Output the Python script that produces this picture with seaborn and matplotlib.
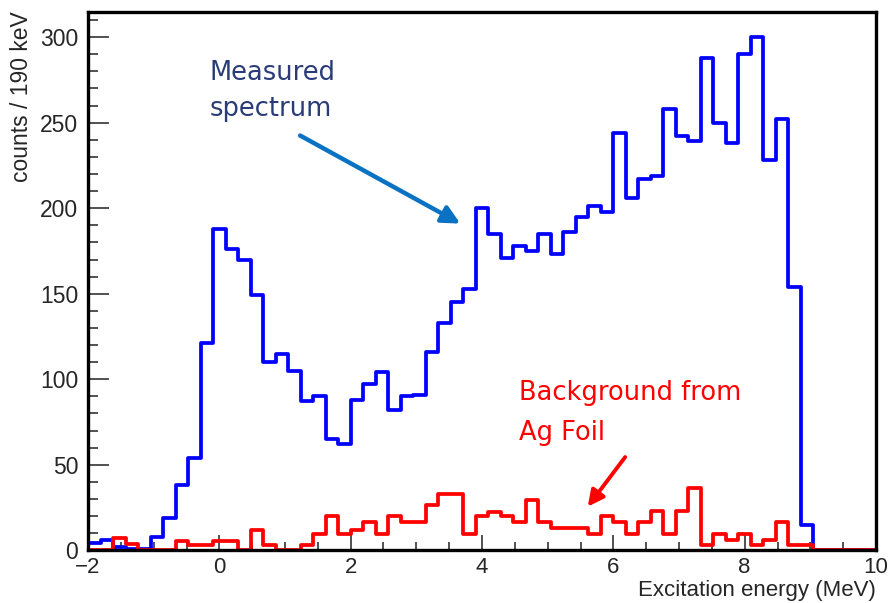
import numpy as np
import pandas as pd
import matplotlib
matplotlib.use("Agg")
import matplotlib.pyplot as plt
from matplotlib.ticker import MultipleLocator
import seaborn as sns

# 63 bins of ~190 keV between -2 and 10 MeV
x_min, x_max, n_bins = -2.0, 10.0, 63

measured = [4, 6, 2, 1, 1, 8, 19, 38, 54, 121,
            188, 176, 170, 149, 110, 115, 105, 87, 90, 65,
            62, 88, 97, 104, 82, 90, 91, 116, 133, 145,
            153, 200, 185, 171, 178, 175, 185, 173, 186, 195,
            201, 198, 244, 206, 217, 219, 258, 242, 239, 288,
            250, 238, 290, 300, 228, 252, 154, 15, 0, 0,
            0, 0, 0]

background = [0, 0, 7, 3.5, 0, 0, 0, 5.6, 2.9, 2.9,
              5.6, 5.6, 0, 12, 2.9, 0, 0, 2.9, 9.7, 19.9,
              9.7, 12, 16.5, 9.7, 19.9, 16.5, 16.5, 26.7, 32.9, 32.9,
              9.7, 19.9, 22.4, 19.9, 16.5, 29.6, 16.5, 13, 13, 13,
              9.7, 19.9, 16.5, 9.7, 16.5, 23, 9.7, 23, 36.4, 2.9,
              9.7, 6.2, 9.7, 2.9, 6.2, 16.5, 2.9, 2.9, 0, 0,
              0, 0, 0]

edges = np.linspace(x_min, x_max, n_bins + 1)
centers = 0.5 * (edges[:-1] + edges[1:])
df = pd.DataFrame({"energy": centers, "measured": measured, "background": background})

sns.set_theme(style="white")
plt.rcParams["font.family"] = ["Liberation Sans", "DejaVu Sans"]

fig = plt.figure(figsize=(8.9, 6.03), dpi=100)
ax = fig.add_axes([88 / 890, 1 - 550.3 / 603, (876 - 88) / 890, (550.3 - 11.5) / 603])

sns.histplot(data=df, x="energy", weights="measured", bins=n_bins, binrange=(x_min, x_max),
             element="step", fill=False, color="#0000ff", linewidth=2.7, ax=ax, zorder=2)
sns.histplot(data=df, x="energy", weights="background", bins=n_bins, binrange=(x_min, x_max),
             element="step", fill=False, color="#ff0000", linewidth=2.7, ax=ax, zorder=3)

ax.set_xlim(x_min, x_max)
ax.set_ylim(0, 315)

ax.xaxis.set_major_locator(MultipleLocator(2))
ax.xaxis.set_minor_locator(MultipleLocator(0.5))
ax.yaxis.set_major_locator(MultipleLocator(50))
ax.yaxis.set_minor_locator(MultipleLocator(10))
ax.set_xticks(np.arange(-2, 10.1, 2))
ax.set_xticklabels(["\u22122", "0", "2", "4", "6", "8", "10"])

ax.tick_params(axis="x", which="major", direction="in", length=11, width=1.1,
               color="#222222", labelsize=16, pad=5, bottom=True, top=False)
ax.tick_params(axis="x", which="minor", direction="in", length=6, width=1.1,
               color="#222222", bottom=True, top=False)
ax.tick_params(axis="y", which="major", direction="in", length=15, width=1.1,
               color="#222222", labelsize=16.5, pad=7, left=True, right=False)
ax.tick_params(axis="y", which="minor", direction="in", length=7.5, width=1.1,
               color="#222222", left=True, right=False)

for s in ax.spines.values():
    s.set_visible(True)
    s.set_color("black")
    s.set_linewidth(2.4)
    s.set_zorder(5)

ax.set_xlabel("Excitation energy (MeV)", fontsize=16, ha="right", x=1.0, labelpad=1)
ax.set_ylabel("counts / 190 keV", fontsize=16.5, ha="right", y=1.0, labelpad=5)
ax.grid(False)

# annotation texts, one line each
ann_font = ["DejaVu Sans"]
ax.text(-0.15, 279, "Measured", color="#2a3c78", fontsize=18.5,
        family=ann_font, va="center", ha="left")
ax.text(-0.15, 258, "spectrum", color="#2a3c78", fontsize=18.5,
        family=ann_font, va="center", ha="left")
ax.annotate("", xy=(3.67, 191), xytext=(1.23, 242.5),
            arrowprops=dict(arrowstyle="-|>,head_length=0.9,head_width=0.45",
                            color="#0a72c2", lw=3.2, shrinkA=0, shrinkB=0))

ax.text(4.56, 92, "Background from", color="#ff0000", fontsize=18.5,
        family=ann_font, va="center", ha="left")
ax.text(4.56, 68.5, "Ag Foil", color="#ff0000", fontsize=18.5,
        family=ann_font, va="center", ha="left")
ax.annotate("", xy=(5.61, 25.5), xytext=(6.18, 54.5),
            arrowprops=dict(arrowstyle="-|>,head_length=0.8,head_width=0.4",
                            color="#ff0000", lw=2.8, shrinkA=0, shrinkB=0))

fig.savefig("out.png", dpi=100)
